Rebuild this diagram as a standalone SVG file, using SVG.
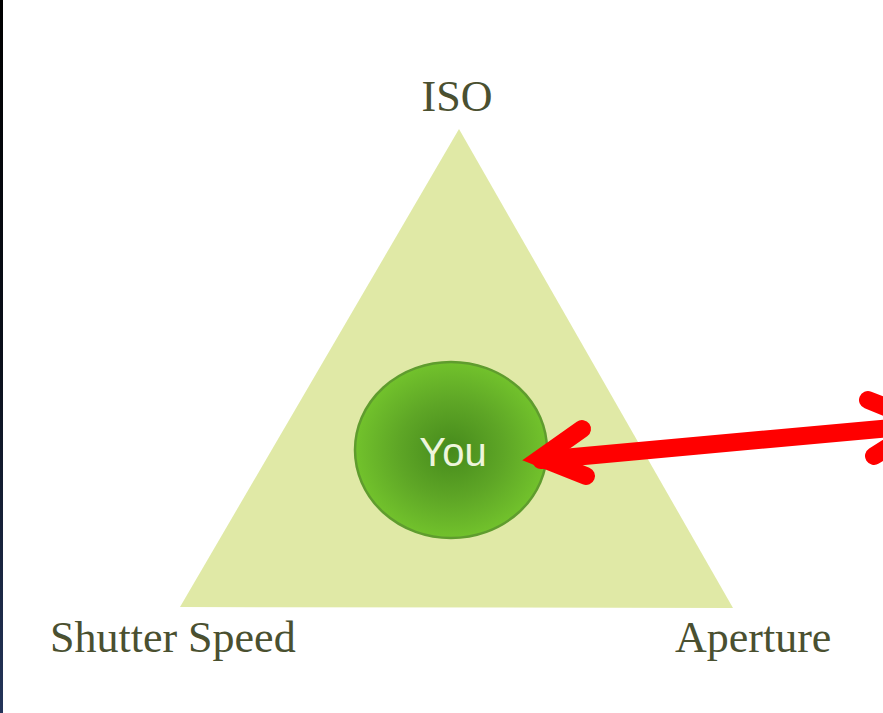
<svg xmlns="http://www.w3.org/2000/svg" width="883" height="713" viewBox="0 0 883 713">
  <defs>
    <linearGradient id="bar" x1="0" y1="0" x2="0" y2="1">
      <stop offset="0" stop-color="#000000"/>
      <stop offset="0.5" stop-color="#0a0f1a"/>
      <stop offset="1" stop-color="#24355a"/>
    </linearGradient>
    <radialGradient id="youGrad" cx="0.5" cy="0.5" r="0.5">
      <stop offset="0" stop-color="#468a1c"/>
      <stop offset="0.55" stop-color="#5ea626"/>
      <stop offset="1" stop-color="#72c22c"/>
    </radialGradient>
    <style>
      .label { font-family: "Liberation Serif", "Times New Roman", serif; font-size: 44px; fill: #4a5030; }
      .you { font-family: "Liberation Sans", Arial, sans-serif; font-size: 40px; fill: #eef5dc; }
      .arrow { fill: none; stroke: #ff0000; stroke-width: 18; stroke-linecap: round; stroke-linejoin: miter; stroke-miterlimit: 10; }
    </style>
  </defs>
  <rect width="883" height="713" fill="#ffffff"/>
  <rect x="0" y="0" width="3" height="713" fill="url(#bar)"/>

  <g id="triangle">
    <polygon points="459,129 180,607 733,608" fill="#e0e9a6"/>
  </g>

  <g id="iso">
    <text class="label" x="457" y="111" text-anchor="middle">ISO</text>
  </g>
  <g id="shutter-speed">
    <text class="label" x="50" y="652">Shutter Speed</text>
  </g>
  <g id="aperture">
    <text class="label" x="675" y="652">Aperture</text>
  </g>

  <g id="you">
    <ellipse cx="451" cy="450" rx="96" ry="88" fill="url(#youGrad)" stroke="#5f9c2e" stroke-width="2.5"/>
    <text class="you" x="453" y="466" text-anchor="middle">You</text>
  </g>

  <g id="connectors">
    <path class="arrow" d="M541,460 L934,424"/>
    <path class="arrow" d="M582,429 L541,458 L586,476"/>
    <path class="arrow" d="M868,400 L926,423 L874,456"/>
  </g>
</svg>
